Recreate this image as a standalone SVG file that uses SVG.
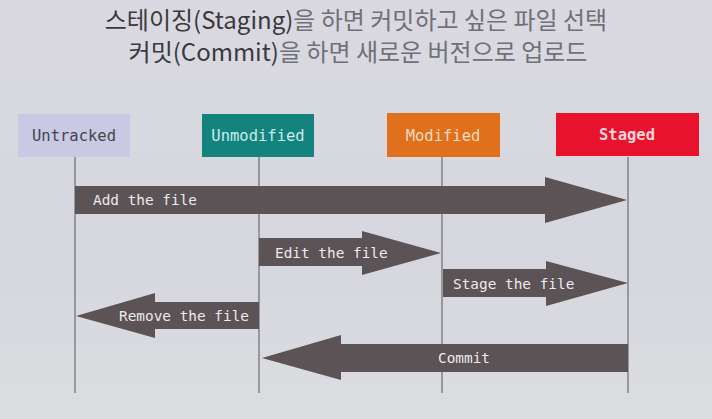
<svg xmlns="http://www.w3.org/2000/svg" width="712" height="419" viewBox="0 0 712 419">
<defs>
<linearGradient id="bg" x1="0" y1="0" x2="0" y2="1">
<stop offset="0" stop-color="#dad9e1"/>
<stop offset="0.6" stop-color="#d6d7de"/>
<stop offset="1" stop-color="#dcdde0"/>
</linearGradient>
<style>
.title{font-family:"Noto Sans CJK KR","Noto Sans",sans-serif;font-size:24px;text-anchor:middle}
.dark{fill:#3a3a3e}
.light{fill:#707076}
.box text{font-family:"DejaVu Sans Mono","Liberation Mono",monospace;font-size:15.5px;text-anchor:middle}
.life{stroke:#6c6c74;stroke-width:1.2;fill:none}
.arrow{fill:#5b5355}
.lbl{font-family:"DejaVu Sans Mono","Liberation Mono",monospace;font-size:14.4px;fill:#ecebee}
</style>
</defs>
<rect width="712" height="419" fill="url(#bg)"/>
<text class="title" x="356" y="29"><tspan class="dark">스테이징(Staging)</tspan><tspan class="light">을 하면 커밋하고 싶은 파일 선택</tspan></text>
<text class="title" x="358" y="61"><tspan class="dark">커밋(Commit)</tspan><tspan class="light">을 하면 새로운 버전으로 업로드</tspan></text>
<g id="connectors">
<line class="life" x1="75" y1="157" x2="75" y2="393"/>
<line class="life" x1="259" y1="157" x2="259" y2="393"/>
<line class="life" x1="442" y1="157" x2="442" y2="393"/>
<line class="life" x1="628" y1="157" x2="628" y2="393"/>
<g id="add">
<polygon class="arrow" points="75,186 545,186 545,177 627,200 545,223 545,214 75,214"/>
<text class="lbl" x="93" y="205">Add the file</text>
</g>
<g id="edit">
<polygon class="arrow" points="259,238 362,238 362,231 441,253 362,275 362,266 259,266"/>
<text class="lbl" x="275" y="258">Edit the file</text>
</g>
<g id="stage">
<polygon class="arrow" points="443,269 546,269 546,261 628,283 546,306 546,297 443,297"/>
<text class="lbl" x="453" y="289">Stage the file</text>
</g>
<g id="remove">
<polygon class="arrow" points="259,302 155,302 155,293 76,316 155,338 155,329 259,329"/>
<text class="lbl" x="119" y="321">Remove the file</text>
</g>
<g id="commit">
<polygon class="arrow" points="628,344 341,344 341,335 262,358 341,380 341,372 628,372"/>
<text class="lbl" x="464" y="363" text-anchor="middle">Commit</text>
</g>
</g>
<g id="untracked" class="box">
<rect x="18" y="114" width="112" height="43" fill="#c9c9e3"/>
<text x="74" y="141" fill="#44444c">Untracked</text>
</g>
<g id="unmodified" class="box">
<rect x="202" y="114" width="112" height="43" fill="#14837e"/>
<text x="258" y="141" fill="#c8ecea">Unmodified</text>
</g>
<g id="modified" class="box">
<rect x="387" y="113" width="113" height="44" fill="#e0701c"/>
<text x="443" y="141" fill="#f6dcc0">Modified</text>
</g>
<g id="staged" class="box">
<rect x="556" y="113" width="143" height="43" fill="#e8122c"/>
<text x="627" y="140" fill="#fbd5d8" font-weight="bold">Staged</text>
</g>
</svg>
